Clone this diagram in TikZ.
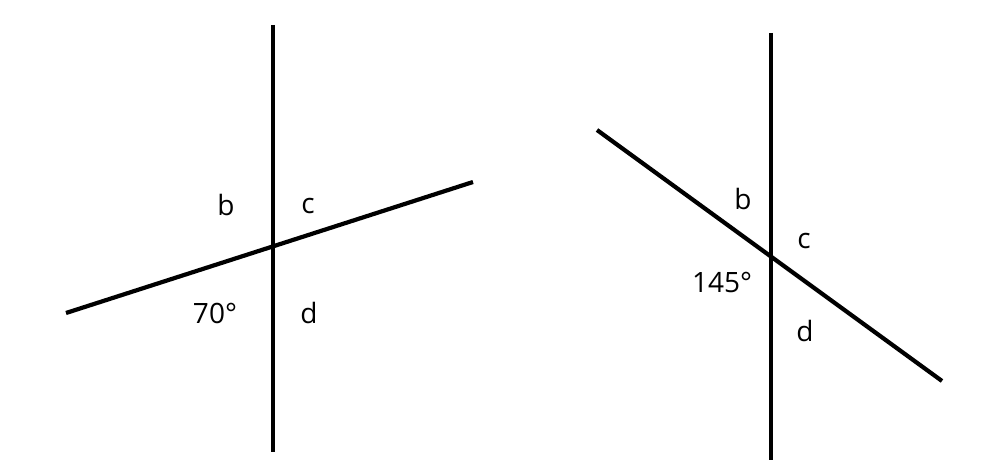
\documentclass[tikz,border=0pt]{standalone}
\usepackage{fontspec}
\setmainfont{Open Sans}
\usepackage{tikz}
\usetikzlibrary{positioning}

\begin{document}
\begin{tikzpicture}[x=1pt,y=-1pt]
                \useasboundingbox (0,0) rectangle (990,473);
                \tikzset{
                    angleline/.style={line width=4.2pt},
                    anglelabel/.style={font=\fontsize{28}{32}\selectfont, inner sep=0pt}
                }

                % left figure
                \coordinate (vtopA) at (273,25);
                \coordinate (vbotA) at (273,452);
                \coordinate (sleftA) at (66,313);
                \coordinate (srightA) at (473,182);

                \draw[
                    angleline
                ] (vtopA) to (vbotA);

                \draw[
                    angleline
                ] (sleftA) to (srightA);

                \node[anglelabel] (bA) at (226,205) {b};
                \node[anglelabel] (cA) at (308,206) {c};
                \node[anglelabel] (angA) at (215,313) {70°};
                \node[anglelabel] (dA) at (309,313) {d};

                % right figure
                \coordinate (vtopB) at (771,33);
                \coordinate (vbotB) at (771,460);
                \coordinate (sleftB) at (597,130);
                \coordinate (srightB) at (942,381);

                \draw[
                    angleline
                ] (vtopB) to (vbotB);

                \draw[
                    angleline
                ] (sleftB) to (srightB);

                \node[anglelabel] (bB) at (743,199) {b};
                \node[anglelabel] (cB) at (804,241) {c};
                \node[anglelabel] (angB) at (722,282) {145°};
                \node[anglelabel] (dB) at (805,331) {d};

            \end{tikzpicture}
\end{document}
